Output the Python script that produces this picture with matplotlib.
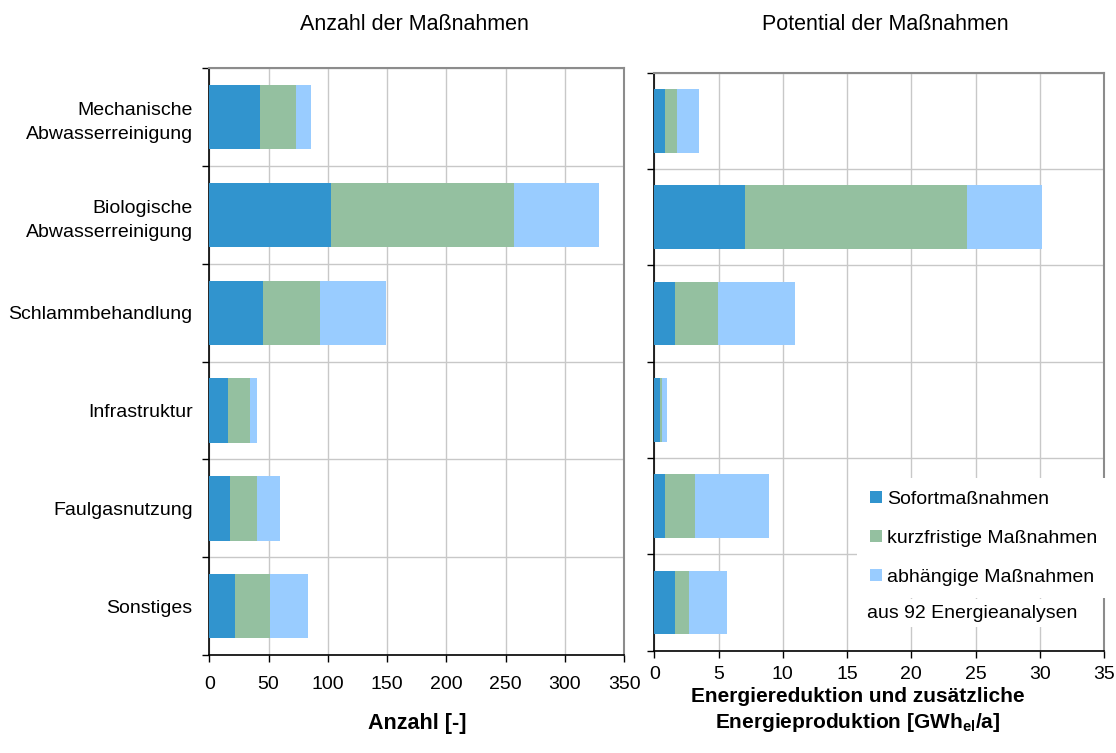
import numpy as np
import matplotlib
matplotlib.use('Agg')
import matplotlib.pyplot as plt
from matplotlib.patches import Patch

plt.rcParams['font.family'] = ['Liberation Sans', 'DejaVu Sans']
plt.rcParams['mathtext.fontset'] = 'custom'
plt.rcParams['mathtext.rm'] = 'Liberation Sans'
plt.rcParams['mathtext.bf'] = 'Liberation Sans:bold'

# Daten
kategorien = ['Mechanische\nAbwasserreinigung', 'Biologische\nAbwasserreinigung',
              'Schlammbehandlung', 'Infrastruktur', 'Faulgasnutzung', 'Sonstiges']
serien = ['Sofortmaßnahmen', 'kurzfristige Maßnahmen', 'abhängige Maßnahmen']

anzahl_sofort = [43, 103, 45, 16, 17, 22]
anzahl_kurz = [30, 154, 48, 18, 23, 29]
anzahl_abh = [13, 72, 56, 6, 20, 32]

potential_sofort = [0.83, 7.05, 1.6, 0.44, 0.83, 1.6]
potential_kurz = [0.94, 17.25, 3.35, 0.16, 2.35, 1.1]
potential_abh = [1.7, 5.9, 6.0, 0.39, 5.75, 2.95]

farben = ['#3194CE', '#94C0A0', '#99CCFF']

FS = 14
W, H = 1116, 753

fig = plt.figure(figsize=(W / 100, H / 100), dpi=100)
ax1 = fig.add_axes([0.1876, 0.1301, 0.3716, 0.7792])
ax2 = fig.add_axes([0.5863, 0.1359, 0.4030, 0.7676])

y = np.arange(len(kategorien))


def balken(ax, werte, xmax, step, xpad):
    links = np.zeros(len(kategorien))
    for w, c in zip(werte, farben):
        ax.barh(y, w, left=links, height=0.66, color=c, zorder=3)
        links = links + np.array(w)
    ax.set_xlim(0, xmax)
    ax.set_ylim(len(kategorien) - 0.5, -0.5)
    ax.set_xticks(np.arange(0, xmax + step / 2, step))
    ax.set_yticks(y)
    ax.set_yticks(np.arange(-0.5, len(kategorien)), minor=True)
    ax.tick_params(axis='y', which='major', length=0, pad=12, labelsize=FS)
    ax.tick_params(axis='y', which='minor', length=5, width=1, color='black', direction='out')
    ax.tick_params(axis='x', length=5, width=1, pad=xpad, labelsize=FS)
    ax.grid(axis='x', which='major', color='#c8c8c8', lw=1, zorder=0)
    ax.grid(axis='y', which='minor', color='#c8c8c8', lw=1, zorder=0)
    for s in ['left', 'bottom']:
        ax.spines[s].set_color('black')
        ax.spines[s].set_linewidth(1.2)
    for s in ['top', 'right']:
        ax.spines[s].set_color('#8c8c8c')
        ax.spines[s].set_linewidth(1.5)


balken(ax1, [anzahl_sofort, anzahl_kurz, anzahl_abh], 350, 50, 10)
ax1.set_yticklabels(kategorien, linespacing=1.55, ha='right')

balken(ax2, [potential_sofort, potential_kurz, potential_abh], 35, 5, 6)
ax2.set_yticklabels([])

# Titel und Achsenbeschriftungen
fig.text(414 / W, 1 - 24 / H, 'Anzahl der Maßnahmen', ha='center', va='center', fontsize=15.5)
fig.text(885 / W, 1 - 24 / H, 'Potential der Maßnahmen', ha='center', va='center', fontsize=15.5)
fig.text(417 / W, 1 - 724 / H, 'Anzahl [-]', ha='center', va='center',
         fontsize=15.5, fontweight='bold')
fig.text(858 / W, 1 - 697 / H, 'Energiereduktion und zusätzliche', ha='center',
         va='center', fontsize=15, fontweight='bold')
fig.text(858 / W, 1 - 723 / H, r'Energieproduktion [GWh$_\mathbf{el}$/a]', ha='center',
         va='center', fontsize=15, fontweight='bold')

# Legende
handles = [Patch(facecolor=c, edgecolor='none') for c in farben]
leg = ax2.legend(handles, serien, loc='upper left', bbox_to_anchor=(857 / W, 1 - 478 / H),
                 bbox_transform=fig.transFigure, borderaxespad=0,
                 frameon=True, fancybox=False, edgecolor='none', facecolor='white',
                 framealpha=1, fontsize=FS, handlelength=0.62, handleheight=0.6,
                 handletextpad=0.26, labelspacing=1.13, borderpad=0.65)
leg.set_zorder(5)
ax2.text(867 / W, 1 - 613 / H, 'aus 92 Energieanalysen', transform=fig.transFigure,
         fontsize=FS, ha='left', va='center', zorder=6,
         bbox=dict(facecolor='white', edgecolor='none', pad=4))

fig.savefig('out.png', dpi=100)
